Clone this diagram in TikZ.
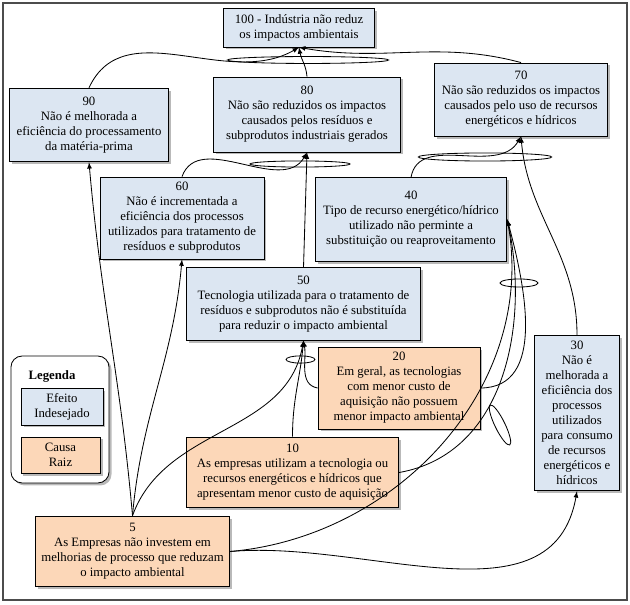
\documentclass[tikz,border=0pt]{standalone}
\usepackage{fontspec}
\setmainfont{Liberation Serif}
\usepackage{xcolor}
\usetikzlibrary{shadows}
\definecolor{effectblue}{RGB}{220,230,242}
\definecolor{causepeach}{RGB}{252,215,184}

\begin{document}
\begin{tikzpicture}[x=0.72pt, y=0.72pt]
    \tikzstyle{box} = [draw, line width=0.6pt, align=center, inner sep=2pt, font=\fontsize{9.2}{10.8}\selectfont, drop shadow={shadow xshift=1.8pt, shadow yshift=-1.8pt, opacity=0.55}]
    \tikzstyle{effect} = [box, fill=effectblue]
    \tikzstyle{cause} = [box, fill=causepeach]
    \tikzstyle{link} = [-latex, line width=0.6pt]
    \useasboundingbox (0, 0) rectangle (630, -605);
    \draw[black!70, line width=0.8pt] (3, -3) rectangle (627, -600);
    \node[effect, minimum width=109pt, minimum height=28pt] (e100) at (299, -27.5) {100 - Indústria não reduz\\os impactos ambientais};
    \node[effect, minimum width=115pt, minimum height=53pt] (e90) at (89, -125) {90\\Não é melhorada a\\eficiência do processamento\\da matéria-prima};
    \node[effect, minimum width=135pt, minimum height=54pt] (e80) at (307, -114.5) {80\\Não são reduzidos os impactos\\causados pelos resíduos e\\subprodutos industriais gerados};
    \node[effect, minimum width=124pt, minimum height=52.6pt] (e70) at (521, -99.5) {70\\Não são reduzidos os impactos\\causados pelo uso de recursos\\energéticos e hídricos};
    \node[effect, minimum width=118pt, minimum height=59pt] (e60) at (182, -218) {60\\Não é incrementada a\\eficiência dos processos\\utilizados para tratamento de\\resíduos e subprodutos};
    \node[effect, minimum width=138pt, minimum height=60pt] (e40) at (411, -219.5) {40\\Tipo de recurso energético/hídrico\\utilizado não perminte a\\substituição ou reaproveitamento};
    \node[effect, minimum width=169pt, minimum height=52pt] (e50) at (303.5, -304) {50\\Tecnologia utilizada para o tratamento de\\resíduos e subprodutos não é substituída\\para reduzir o impacto ambiental};
    \node[cause, minimum width=116.6pt, minimum height=59pt] (c20) at (399, -388) {20\\Em geral, as tecnologias\\com menor custo de\\aquisição não possuem\\menor impacto ambiental};
    \node[effect, minimum width=61pt, minimum height=112pt] (e30) at (577, -413) {30\\Não é\\melhorada a\\eficiência dos\\processos\\utilizados\\para consumo\\de recursos\\energéticos e\\hídricos};
    \node[cause, minimum width=153pt, minimum height=51pt] (c10) at (292.5, -472.5) {10\\As empresas utilizam a tecnologia ou\\recursos energéticos e hídricos que\\apresentam menor custo de aquisição};
    \node[cause, minimum width=140pt, minimum height=51pt] (c5) at (132.5, -551.5) {5\\As Empresas não investem em\\melhorias de processo que reduzam\\o impacto ambiental};
    \node[draw, rounded corners=8pt, fill=white, line width=0.6pt, minimum width=70.6pt, minimum height=91.4pt, drop shadow={shadow xshift=1.8pt, shadow yshift=-1.8pt, opacity=0.55}] (legend) at (60, -419.5) {};
    \node[font=\bfseries\fontsize{9.2}{10.8}\selectfont] (legtitle) at (52, -376) {Legenda};
    \node[effect, minimum width=59pt, minimum height=26.6pt] (legeffect) at (62, -406.5) {Efeito\\Indesejado};
    \node[cause, minimum width=57pt, minimum height=26pt] (legcause) at (60.5, -455) {Causa\\Raiz};
    \draw[link] (e90.north) to[out=65, in=-150] (e100.south);
    \draw[link] (e80.north) to[out=95, in=-80] (e100.south);
    \draw[link] (e70.north) to[out=165, in=-10] (e100.south);
    \draw[line width=0.6pt] (308, -60) ellipse[x radius=58pt, y radius=2.5pt];
    \draw[link] (e60.north) to[out=70, in=-120] (e80.south);
    \draw[link] (e50.north) -- (e80.south);
    \draw[line width=0.6pt] (300, -164) ellipse[x radius=36pt, y radius=2.2pt];
    \draw[link] (e40.north) to[out=80, in=-120] (e70.south);
    \draw[link] (e30.north) to[out=90, in=-85] (e70.south);
    \draw[line width=0.6pt] (485, -157) ellipse[x radius=48pt, y radius=2.9pt];
    \draw[link] (c5.north) to[out=95, in=-85] (e90.south);
    \draw[link] (c5.north) to[out=85, in=-95] (e60.south);
    \draw[link] (c5.north) to[out=70, in=-100] (e50.south);
    \draw[link] (c10.north) to[out=90, in=-95] (e50.south);
    \draw[link] (c20.west) to[out=170, in=-80] (e50.south);
    \draw[line width=0.6pt] (300.5, -359.5) ellipse[x radius=10.4pt, y radius=2.6pt];
    \draw[link] (c20.east) to[out=0, in=-75] (e40.east);
    \draw[link] (c10.east) to[out=10, in=-78] (e40.east);
    \draw[link] (c5.east) to[out=5, in=-80] (e40.east);
    \draw[line width=0.6pt] (519, -283) ellipse[x radius=13.7pt, y radius=2.9pt];
    \draw[line width=0.6pt, rotate around={-64:(500, -425)}] (500, -425) ellipse[x radius=16pt, y radius=3.6pt];
    \draw[link] (c5.east) to[out=5, in=-100] (e30.south);
\end{tikzpicture}
\end{document}
